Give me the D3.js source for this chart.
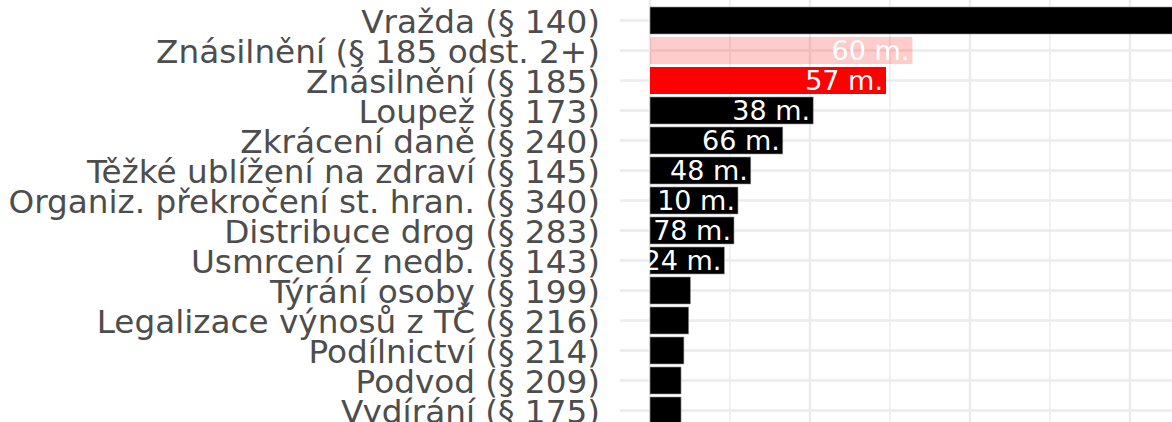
<!DOCTYPE html>
<html>
<head>
<meta charset="utf-8">
<script src="https://cdn.jsdelivr.net/npm/d3@7"></script>
<style>
  body { margin: 0; background: #fff; }
  svg { display: block; }
  .y-axis text { font-family: "DejaVu Sans", sans-serif; fill: #4d4d4d; }
</style>
</head>
<body>
<div id="chart"></div>
<script>
// categories top to bottom
const crimes = [
  'Vražda (§ 140)',
  'Znásilnění (§ 185 odst. 2+)',
  'Znásilnění (§ 185)',
  'Loupež (§ 173)',
  'Zkrácení daně (§ 240)',
  'Těžké ublížení na zdraví (§ 145)',
  'Organiz. překročení st. hran. (§ 340)',
  'Distribuce drog (§ 283)',
  'Usmrcení z nedb. (§ 143)',
  'Týrání osoby (§ 199)',
  'Legalizace výnosů z TČ (§ 216)',
  'Podílnictví (§ 214)',
  'Podvod (§ 209)',
  'Vydírání (§ 175)'
];
// bar lengths
const counts = [420, 164, 147.5, 102, 83, 63, 55, 52.5, 46.5, 25.3, 24.2, 21.2, 19.4, 19.4];
// text printed inside the bars
const barLabels = ['', '60 m.', '57 m.', '38 m.', '66 m.', '48 m.', '10 m.', '78 m.', '24 m.', '', '', '', '', ''];
// highlight group per bar
const groups = ['other', 'rape2', 'rape', 'other', 'other', 'other', 'other', 'other', 'other', 'other', 'other', 'other', 'other', 'other'];
const majorTicks = [0, 100, 200, 300, 400];
const minorTicks = [50, 150, 250, 350];

const width = 1172, height = 422;
const panelLeft = 620;

const svg = d3.select('#chart').append('svg')
  .attr('width', width)
  .attr('height', height);

const data = crimes.map((c, i) => ({crime: c, value: counts[i], label: barLabels[i], group: groups[i]}));

const xScale = d3.scaleLinear()
  .domain([0, 100])
  .range([650, 810]);

const yScale = d3.scaleBand()
  .domain(crimes)
  .range([5.5, 425.5])
  .paddingInner(0.1)
  .paddingOuter(0.05);

const fillColor = {other: '#000000', rape2: '#ff0000', rape: '#ff0000'};
const fillOpacity = {other: 1, rape2: 0.2, rape: 1};

// grid
const grid = svg.append('g');
grid.selectAll('.minor-x')
  .data(minorTicks)
  .join('line')
  .attr('x1', d => xScale(d)).attr('x2', d => xScale(d))
  .attr('y1', 0).attr('y2', height)
  .attr('stroke', '#ebebeb')
  .attr('stroke-width', 1.4);

grid.selectAll('.major-x')
  .data(majorTicks)
  .join('line')
  .attr('x1', d => xScale(d)).attr('x2', d => xScale(d))
  .attr('y1', 0).attr('y2', height)
  .attr('stroke', '#ebebeb')
  .attr('stroke-width', 2.4);

grid.selectAll('.major-y')
  .data(crimes)
  .join('line')
  .attr('x1', panelLeft).attr('x2', width)
  .attr('y1', d => yScale(d) + yScale.bandwidth() / 2)
  .attr('y2', d => yScale(d) + yScale.bandwidth() / 2)
  .attr('stroke', '#ebebeb')
  .attr('stroke-width', 2.4);

// bars
svg.append('g').selectAll('rect')
  .data(data)
  .join('rect')
  .attr('x', xScale(0))
  .attr('y', d => yScale(d.crime))
  .attr('width', d => xScale(d.value) - xScale(0))
  .attr('height', yScale.bandwidth())
  .attr('fill', d => fillColor[d.group])
  .attr('fill-opacity', d => fillOpacity[d.group])
  .attr('stroke', d => d.group === 'other' ? '#9a9a9a' : 'none')
  .attr('stroke-width', 0.6);

// labels in bars
svg.append('g').selectAll('text')
  .data(data.filter(d => d.label !== ''))
  .join('text')
  .attr('x', d => xScale(d.value) - 3)
  .attr('y', d => yScale(d.crime) + yScale.bandwidth() / 2)
  .attr('dy', '0.36em')
  .attr('text-anchor', 'end')
  .attr('font-family', '"DejaVu Sans", sans-serif')
  .attr('font-size', 27)
  .attr('fill', '#ffffff')
  .text(d => d.label);

// category axis
const yAxis = d3.axisLeft(yScale).tickSize(0).tickPadding(20);
svg.append('g')
  .attr('class', 'y-axis')
  .attr('transform', `translate(${panelLeft},0)`)
  .call(yAxis)
  .call(g => g.select('.domain').remove())
  .selectAll('text')
  .attr('font-size', 32.7)
  .attr('dy', '0.38em');
</script>
</body>
</html>
